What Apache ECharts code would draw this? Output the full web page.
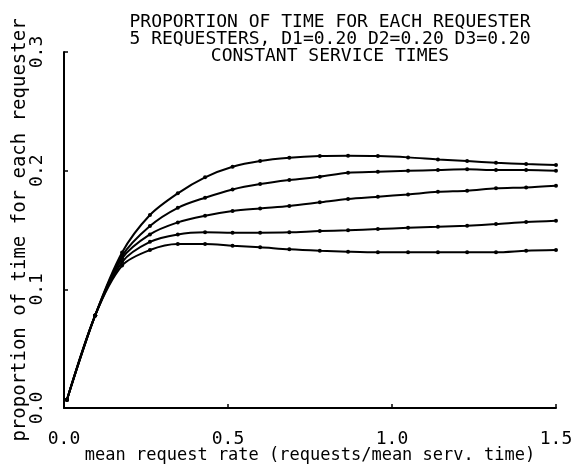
<!DOCTYPE html>
<html>
<head>
<meta charset="utf-8">
<script src="https://cdn.jsdelivr.net/npm/echarts@6/dist/echarts.min.js"></script>
<style>
  html, body { margin: 0; padding: 0; background: #fff; }
  #main { width: 577px; height: 464px; }
</style>
</head>
<body>
<div id="main"></div>
<script>
  // mean request rate at each plotted point
  const rates = [0.009, 0.095, 0.177, 0.262, 0.347, 0.430, 0.514, 0.598, 0.687,
    0.780, 0.866, 0.957, 1.049, 1.140, 1.229, 1.317, 1.409, 1.500]

  // proportion of time, one list per requester (top curve first)
  const req1 = [0.007, 0.078, 0.131, 0.1626, 0.1809, 0.1944, 0.2033, 0.2081, 0.2108,
    0.2123, 0.2126, 0.2123, 0.2112, 0.2095, 0.2081, 0.2067, 0.2056, 0.2047]
  const req2 = [0.007, 0.078, 0.128, 0.1533, 0.1687, 0.1772, 0.1842, 0.1887, 0.1921,
    0.1949, 0.1982, 0.1991, 0.1999, 0.2005, 0.2011, 0.2005, 0.2005, 0.1999]
  const req3 = [0.007, 0.078, 0.126, 0.1463, 0.1564, 0.1620, 0.1660, 0.1682, 0.1703,
    0.1733, 0.1761, 0.1780, 0.1800, 0.1822, 0.1831, 0.1851, 0.1859, 0.1873]
  const req4 = [0.007, 0.078, 0.123, 0.1400, 0.1463, 0.1480, 0.1477, 0.1477, 0.1480,
    0.1491, 0.1497, 0.1508, 0.1519, 0.1527, 0.1536, 0.1550, 0.1567, 0.1578]
  const req5 = [0.007, 0.078, 0.120, 0.1331, 0.1382, 0.1382, 0.1367, 0.1354, 0.1337,
    0.1325, 0.1317, 0.1312, 0.1312, 0.1312, 0.1312, 0.1312, 0.1325, 0.1331]

  const xTicks = ['0.0', '0.5', '1.0', '1.5']
  const yTicks = ['0.0', '0.1', '0.2', '0.3']

  const mono = '"DejaVu Sans Mono", monospace'
  const ink = '#000'

  function pairs (vals) {
    return rates.map((r, i) => [r, vals[i]])
  }

  const chart = echarts.init(document.getElementById('main'), null, { renderer: 'canvas' })
  chart.setOption({
    animation: false,
    backgroundColor: '#fff',
    title: {
      text: 'PROPORTION OF TIME FOR EACH REQUESTER\n5 REQUESTERS, D1=0.20 D2=0.20 D3=0.20\nCONSTANT SERVICE TIMES',
      left: 330,
      top: 14,
      padding: 0,
      textAlign: 'center',
      textStyle: {
        fontFamily: mono,
        fontSize: 18,
        lineHeight: 17,
        fontWeight: 'normal',
        color: ink
      }
    },
    grid: { left: 64, right: 21, top: 52, bottom: 56, containLabel: false, outerBoundsMode: 'none' },
    xAxis: {
      type: 'value',
      min: 0,
      max: 1.5,
      interval: 0.5,
      name: 'mean request rate (requests/mean serv. time)',
      nameLocation: 'middle',
      nameGap: 39,
      nameMoveOverlap: false,
      nameTextStyle: { fontFamily: mono, fontSize: 17, color: ink },
      axisLine: { lineStyle: { color: ink, width: 2 } },
      axisTick: { inside: true, length: 4, lineStyle: { color: ink, width: 1.5 } },
      splitLine: { show: false },
      axisLabel: {
        margin: 22,
        fontFamily: mono,
        fontSize: 18,
        color: ink,
        formatter: (v) => xTicks[Math.round(v / 0.5)]
      }
    },
    yAxis: {
      type: 'value',
      min: 0,
      max: 0.3,
      interval: 0.1,
      name: 'proportion of time for each requester',
      nameLocation: 'middle',
      nameRotate: 90,
      nameGap: 34,
      nameMoveOverlap: false,
      nameTextStyle: { fontFamily: mono, fontSize: 19, color: ink },
      axisLine: { show: true, lineStyle: { color: ink, width: 2 } },
      axisTick: { show: true, inside: true, length: 4, lineStyle: { color: ink, width: 1.5 } },
      splitLine: { show: false },
      axisLabel: {
        rotate: 90,
        margin: 18,
        fontFamily: mono,
        fontSize: 18,
        color: ink,
        formatter: (v) => yTicks[Math.round(v / 0.1)]
      }
    },
    series: [req1, req2, req3, req4, req5].map((vals, i) => ({
      name: 'requester ' + (i + 1),
      type: 'line',
      data: pairs(vals),
      smooth: 0.3,
      symbol: 'circle',
      symbolSize: 4,
      showSymbol: true,
      lineStyle: { color: ink, width: 2 },
      itemStyle: { color: ink }
    }))
  })
</script>
</body>
</html>
